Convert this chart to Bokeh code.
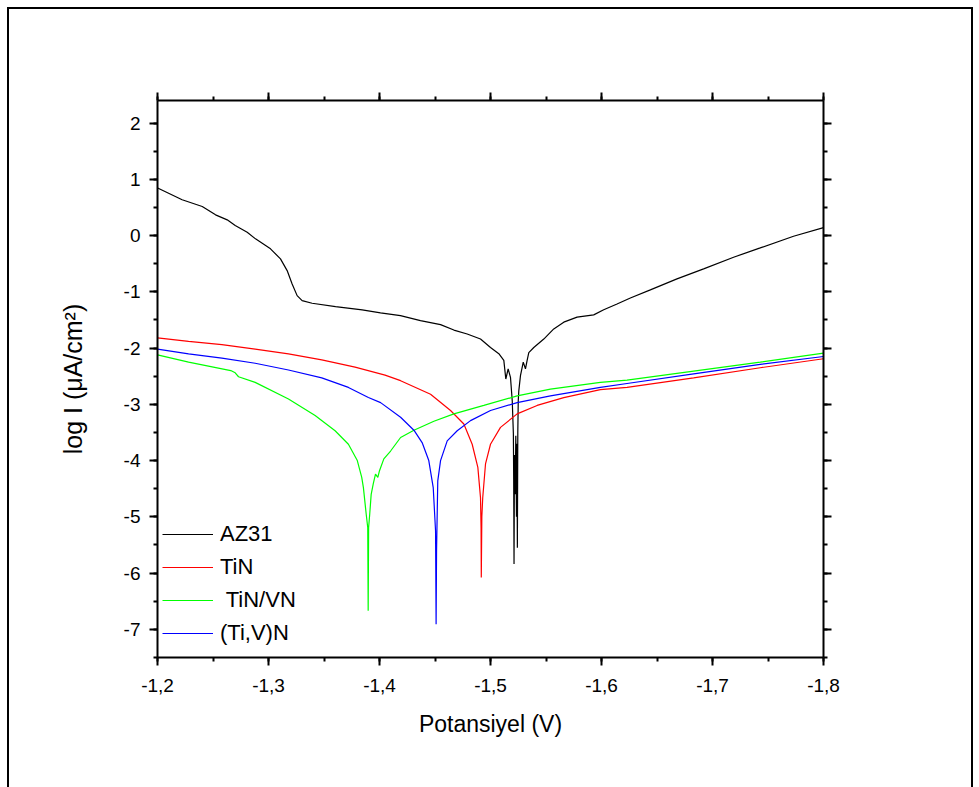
from bokeh.plotting import figure
from bokeh.models import Range1d, LinearAxis, FixedTicker, CustomLabelingPolicy
from bokeh.embed import file_html
from bokeh.resources import INLINE

# Potentiodynamic polarisation curves (potential in V, log of current density)
az31_v = [-1.2000, -1.2006, -1.2222, -1.2403, -1.2523, -1.2628, -1.2700, -1.2808,
          -1.2883, -1.3018, -1.3108, -1.3168, -1.3213, -1.3258, -1.3303, -1.3393,
          -1.3604, -1.3844, -1.4009, -1.4189, -1.4369, -1.4550, -1.4670, -1.4790,
          -1.4910, -1.5000, -1.5075, -1.5120, -1.5138, -1.5159, -1.5180, -1.5196,
          -1.5201, -1.5206, -1.5209, -1.5212, -1.5216, -1.5222, -1.5228, -1.5234,
          -1.5238, -1.5242, -1.5246, -1.5250, -1.5255, -1.5270, -1.5295, -1.5315,
          -1.5330, -1.5345, -1.5390, -1.5480, -1.5570, -1.5660, -1.5780, -1.5930,
          -1.6020, -1.6140, -1.6260, -1.6440, -1.6680, -1.6920, -1.7190, -1.7430,
          -1.7730, -1.8000]
az31_log_i = [0.85, 0.84, 0.635, 0.516, 0.368, 0.279, 0.178, 0.059,
              -0.059, -0.237, -0.415, -0.623, -0.86, -1.068, -1.157, -1.204,
              -1.263, -1.323, -1.376, -1.423, -1.512, -1.584, -1.68, -1.75,
              -1.84, -1.99, -2.10, -2.22, -2.55, -2.37, -2.52, -2.94,
              -3.23, -3.52, -4.36, -5.84, -3.90, -4.60, -3.56, -5.00,
              -3.70, -5.55, -3.50, -2.94, -2.76, -2.49, -2.25, -2.37,
              -2.22, -2.08, -1.99, -1.84, -1.66, -1.54, -1.45, -1.41,
              -1.32, -1.216, -1.11, -0.966, -0.77, -0.593, -0.386, -0.22,
              -0.012, 0.14]

tin_v = [-1.2000, -1.2280, -1.2580, -1.2880, -1.3180, -1.3480, -1.3780, -1.4050,
         -1.4190, -1.4460, -1.4640, -1.4760, -1.4835, -1.4886, -1.4910, -1.4915,
         -1.4917, -1.4922, -1.4930, -1.4955, -1.5000, -1.5090, -1.5240, -1.5420,
         -1.5660, -1.5990, -1.6230, -1.6830, -1.7430, -1.8000]
tin_log_i = [-1.82, -1.88, -1.94, -2.02, -2.105, -2.21, -2.34, -2.48,
             -2.58, -2.82, -3.11, -3.35, -3.71, -4.12, -4.66, -5.19,
             -6.08, -5.00, -4.66, -4.06, -3.71, -3.41, -3.17, -3.02,
             -2.88, -2.74, -2.70, -2.53, -2.35, -2.19]

tinvn_v = [-1.2000, -1.2280, -1.2660, -1.2700, -1.2730, -1.2880, -1.3180, -1.3420,
           -1.3600, -1.3720, -1.3800, -1.3840, -1.3855, -1.3880, -1.3894, -1.3898,
           -1.3902, -1.3912, -1.3925, -1.3945, -1.3964, -1.3985, -1.4000, -1.4039,
           -1.4100, -1.4190, -1.4310, -1.4490, -1.4670, -1.4940, -1.5240, -1.5540,
           -1.5990, -1.6230, -1.6830, -1.7430, -1.8000]
tinvn_log_i = [-2.12, -2.25, -2.40, -2.44, -2.51, -2.61, -2.906, -3.20,
               -3.47, -3.71, -4.00, -4.30, -4.48, -4.95, -5.19, -6.67,
               -5.19, -4.95, -4.60, -4.40, -4.24, -4.30, -4.18, -3.97,
               -3.83, -3.59, -3.46, -3.30, -3.17, -3.02, -2.85, -2.73,
               -2.61, -2.57, -2.41, -2.25, -2.09]

tivn_v = [-1.2000, -1.2280, -1.2580, -1.2880, -1.3180, -1.3480, -1.3720, -1.3900,
          -1.4010, -1.4190, -1.4310, -1.4384, -1.4444, -1.4484, -1.4505, -1.4510,
          -1.4514, -1.4525, -1.4550, -1.4610, -1.4700, -1.4820, -1.5000, -1.5240,
          -1.5540, -1.5990, -1.6230, -1.6830, -1.7430, -1.8000]
tivn_log_i = [-2.02, -2.105, -2.18, -2.27, -2.39, -2.53, -2.70, -2.88,
              -2.97, -3.23, -3.46, -3.68, -4.00, -4.48, -5.25, -6.91,
              -5.60, -4.36, -4.00, -3.65, -3.47, -3.29, -3.11, -2.97,
              -2.85, -2.70, -2.63, -2.46, -2.29, -2.15]

series_names = ["AZ31", "TiN", " TiN/VN", "(Ti,V)N"]
series_colors = ["#000000", "#ff0000", "#00ff00", "#0000ff"]

x_ticks = [-1.2, -1.3, -1.4, -1.5, -1.6, -1.7, -1.8]
x_labels = ["-1,2", "-1,3", "-1,4", "-1,5", "-1,6", "-1,7", "-1,8"]
x_minor = [-1.2, -1.25, -1.3, -1.35, -1.4, -1.45, -1.5, -1.55, -1.6, -1.65, -1.7, -1.75, -1.8]
y_ticks = [-7, -6, -5, -4, -3, -2, -1, 0, 1, 2]
y_labels = ["-7", "-6", "-5", "-4", "-3", "-2", "-1", "0", "1", "2"]
y_minor = [-7.5, -7, -6.5, -6, -5.5, -5, -4.5, -4, -3.5, -3, -2.5, -2, -1.5,
           -1, -0.5, 0, 0.5, 1, 1.5, 2]

FONT = "Liberation Sans"

p = figure(width=979, height=787, output_backend="svg", toolbar_location=None,
           x_range=Range1d(-1.2, -1.8), y_range=Range1d(-7.5, 2.4),
           min_border_left=157, min_border_right=156,
           min_border_top=100, min_border_bottom=130)
p.grid.visible = False
p.outline_line_color = None
p.background_fill_color = None
p.border_fill_color = None
# thin page frame on the left, top and right of the canvas
p.styles = {
    "background-image": "linear-gradient(#000,#000), linear-gradient(#000,#000), linear-gradient(#000,#000)",
    "background-size": "2px 790px, 966px 2px, 2px 790px",
    "background-position": "7px 7px, 7px 7px, 971px 7px",
    "background-repeat": "no-repeat",
    "background-color": "#ffffff",
}

xt = FixedTicker(ticks=x_ticks, minor_ticks=x_minor)
yt = FixedTicker(ticks=y_ticks, minor_ticks=y_minor)

# mirror axes carry ticks only: drop every label
no_labels = CustomLabelingPolicy(code="for (const i of indices) { indices.unset(i) } return indices")

bottom_axis = p.below[0]
left_axis = p.left[0]
top_axis = LinearAxis(ticker=xt, major_label_policy=no_labels)
right_axis = LinearAxis(ticker=yt, major_label_policy=no_labels)
p.add_layout(top_axis, "above")
p.add_layout(right_axis, "right")

for ax in [bottom_axis, left_axis, top_axis, right_axis]:
    ax.axis_line_width = 2
    ax.axis_line_color = "black"
    ax.major_tick_line_width = 2
    ax.minor_tick_line_width = 2
    ax.major_tick_in = 0
    ax.major_tick_out = 8
    ax.minor_tick_in = 0
    ax.minor_tick_out = 4
    ax.major_label_text_font = FONT
    ax.major_label_text_font_size = "19px"
    ax.major_label_text_color = "black"
    ax.axis_label_text_font = FONT
    ax.axis_label_text_font_style = "normal"
    ax.axis_label_text_font_size = "23px"
    ax.axis_label_text_color = "black"

bottom_axis.ticker = xt
left_axis.ticker = yt
bottom_axis.axis_label = "Potansiyel (V)"
left_axis.axis_label = "log I (μA/cm²)"
left_axis.axis_label_text_font_size = "25px"
bottom_axis.major_label_overrides = dict(zip(x_ticks, x_labels))
left_axis.major_label_overrides = {float(t): s for t, s in zip(y_ticks, y_labels)}
bottom_axis.major_label_standoff = 13
left_axis.major_label_standoff = 9
bottom_axis.axis_label_standoff = 16
left_axis.axis_label_standoff = 34

curves = [(az31_v, az31_log_i), (tin_v, tin_log_i), (tinvn_v, tinvn_log_i), (tivn_v, tivn_log_i)]
for (xs, ys), name, color in zip(curves, series_names, series_colors):
    p.line(xs, ys, line_color=color, line_width=1.2, legend_label=name)

lg = p.legend[0]
lg.location = (5, 11)
lg.background_fill_alpha = 0
lg.border_line_color = None
lg.padding = 0
lg.margin = 0
lg.spacing = 7
lg.glyph_width = 51
lg.glyph_height = 20
lg.label_height = 20
lg.label_standoff = 7
lg.label_text_font = FONT
lg.label_text_font_size = "22px"
lg.label_text_color = "black"

open("out.html", "w").write(file_html(p, INLINE))
